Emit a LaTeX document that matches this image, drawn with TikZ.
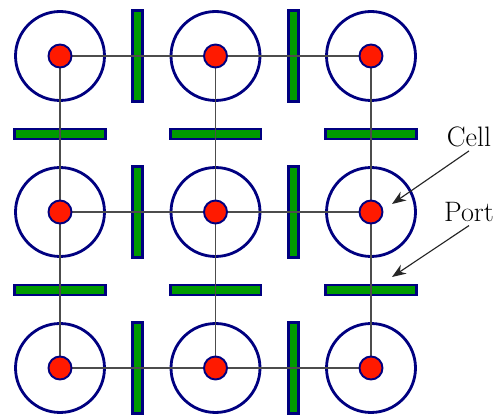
\documentclass[tikz,border=0pt]{standalone}
\usepackage{tikz}
\usetikzlibrary{arrows.meta,positioning,calc}
\definecolor{CellNavy}{HTML}{000080}
\definecolor{CellRed}{HTML}{FF1A00}
\definecolor{PortGreen}{HTML}{009A00}
\tikzset{
  ringnode/.style={circle, draw=CellNavy, line width=1.6pt, minimum size=1.78cm, inner sep=0pt},
  dotnode/.style={circle, draw=CellNavy, fill=CellRed, line width=1.1pt, minimum size=0.46cm, inner sep=0pt},
  portbar/.style={rectangle, draw=CellNavy, fill=PortGreen, line width=1.7pt, inner sep=0pt},
  vport/.style={portbar, minimum width=0.2cm, minimum height=1.82cm},
  hport/.style={portbar, minimum width=1.82cm, minimum height=0.2cm},
  gridline/.style={draw=black!70, line width=0.85pt},
  tag/.style={font=\fontsize{16}{19}\selectfont, inner sep=2pt},
  tagarrow/.style={-{Stealth[length=8pt,width=6pt]}, line width=0.65pt, draw=black!85}
}
\begin{document}
\begin{tikzpicture}[x=0.02cm,y=-0.02cm]
\useasboundingbox (0,0) rectangle (500,418);
% cell centres
\foreach \i/\yy in {1/56,2/212,3/368}
  \foreach \j/\xx in {1/60,2/215.5,3/371}
    \coordinate (p-\i-\j) at (\xx,\yy);
% rings
\foreach \i in {1,2,3}
  \foreach \j in {1,2,3}
    \node[ringnode] (ring-\i-\j) at (p-\i-\j) {};
% ports between neighbours
\foreach \i in {1,2,3}
  \foreach \j/\k in {1/2,2/3}
    \node[vport] (vp-\i-\j) at ($(p-\i-\j)!0.5!(p-\i-\k)$) {};
\foreach \i/\k in {1/2,2/3}
  \foreach \j in {1,2,3}
    \node[hport] (hp-\i-\j) at ($(p-\i-\j)!0.5!(p-\k-\j)$) {};
% links
\foreach \i in {1,2,3} {
  \draw[gridline] (p-\i-1) -- (p-\i-2) -- (p-\i-3);
  \draw[gridline] (p-1-\i) -- (p-2-\i) -- (p-3-\i);
}
% dots
\foreach \i in {1,2,3}
  \foreach \j in {1,2,3}
    \node[dotnode] (c-\i-\j) at (p-\i-\j) {};
% labels
\node[tag] (celltag) at (469,137) {Cell};
\node[tag] (porttag) at (469,212) {Port};
\coordinate (cellpt) at (392,204);
\coordinate (portpt) at (392,277);
\draw[tagarrow] (celltag.south) -- (cellpt);
\draw[tagarrow] (porttag.south) -- (portpt);
\end{tikzpicture}
\end{document}
